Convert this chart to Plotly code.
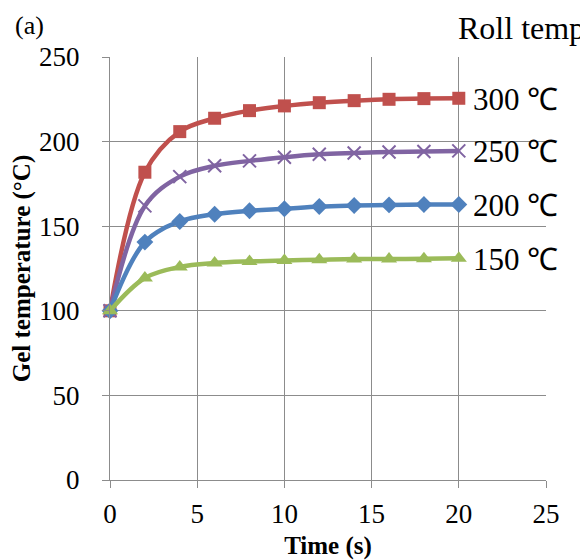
import plotly.graph_objects as go

time_s = [0, 2, 4, 6, 8, 10, 12, 14, 16, 18, 20]
roll_labels = ["300 ℃", "250 ℃", "200 ℃", "150 ℃"]
gel_300 = [100, 181.9, 205.9, 213.8, 218.3, 221.1, 223.0, 224.2, 225.0, 225.4, 225.6]
gel_250 = [100, 162.0, 179.3, 185.7, 188.6, 190.8, 192.5, 193.3, 193.9, 194.1, 194.5]
gel_200 = [100, 140.6, 152.8, 157.1, 159.1, 160.3, 161.6, 162.2, 162.6, 162.8, 162.8]
gel_150 = [100, 119.4, 125.9, 128.2, 129.2, 129.8, 130.2, 130.6, 130.6, 130.8, 131.0]

series = [gel_300, gel_250, gel_200, gel_150]
colors = ["#C0504D", "#8064A2", "#4F81BD", "#9BBB59"]
symbols = ["square", "x-thin", "diamond", "triangle-up"]
sizes = [13, 13, 13, 14]

SERIF = "Liberation Serif"

# page has an 8px body margin; figure is placed at (8, 8)
W, H = 580, 552
L, R, T, B = 102, 42, 49, 79.5
PW, PH = W - L - R, H - T - B

fig = go.Figure()
for vals, col, sym, sz, lab in zip(series, colors, symbols, sizes, roll_labels):
    fig.add_trace(go.Scatter(
        x=time_s, y=vals, mode="lines+markers", name=lab,
        line=dict(color=col, width=4.5, shape="spline", smoothing=1.0),
        marker=dict(symbol=sym, size=sz, color=col,
                    line=dict(color=col, width=2 if sym == "x-thin" else 0)),
        cliponaxis=False,
    ))

annotations = []
for vals, lab in zip(series, roll_labels):
    annotations.append(dict(
        x=time_s[-1] + 0.7, y=vals[-1], xref="x", yref="y", yshift=-1,
        text=lab, showarrow=False, xanchor="left", yanchor="middle",
        font=dict(family=SERIF, size=31, color="black"),
    ))
annotations.append(dict(
    x=(5 - L) / PW, y=1 + (T - 17) / PH, xref="paper", yref="paper",
    text="(a)", showarrow=False, xanchor="left", yanchor="middle",
    font=dict(family=SERIF, size=26, color="black")))
annotations.append(dict(
    x=(448 - L) / PW, y=1 + (T - 20) / PH, xref="paper", yref="paper",
    text="Roll temp", showarrow=False, xanchor="left", yanchor="middle",
    font=dict(family=SERIF, size=32, color="black")))

fig.update_layout(
    width=W, height=H,
    margin=dict(l=L, r=R, t=T, b=B, autoexpand=False),
    paper_bgcolor="white", plot_bgcolor="white",
    showlegend=False,
    annotations=annotations,
    font=dict(family=SERIF, color="black"),
)
fig.update_xaxes(
    range=[0, 25], dtick=5, tick0=0, automargin=False,
    showgrid=True, gridcolor="#8C8C8C", gridwidth=1,
    showline=True, linecolor="#8C8C8C", linewidth=1,
    ticks="outside", ticklen=7, tickcolor="#8C8C8C",
    ticklabelstandoff=3,
    tickfont=dict(family=SERIF, size=27, color="black"),
    zeroline=False,
    title=dict(text="<b>Time (s)</b>", font=dict(family=SERIF, size=25, color="black"), standoff=19),
)
fig.update_yaxes(
    range=[0, 250], dtick=50, tick0=0, automargin=False,
    showgrid=True, gridcolor="#8C8C8C", gridwidth=1,
    showline=True, linecolor="#8C8C8C", linewidth=1,
    ticks="outside", ticklen=7, tickcolor="#8C8C8C",
    ticklabelstandoff=17,
    tickfont=dict(family=SERIF, size=27, color="black"),
    zeroline=False,
    title=dict(text="<b>Gel temperature (°C)</b>", font=dict(family=SERIF, size=25, color="black"), standoff=3),
)

fig.write_html("out.html")
